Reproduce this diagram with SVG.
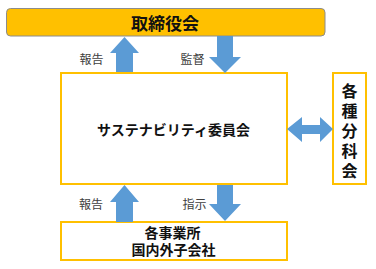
<svg xmlns="http://www.w3.org/2000/svg" width="376" height="269" viewBox="0 0 376 269">
<style>
.box{fill:#fff;stroke:#FFC000;stroke-width:2}
.arr{fill:#5B9BD5}
.t{font-family:"Noto Sans CJK JP","Noto Sans CJK SC",sans-serif;font-weight:bold;fill:#111;text-anchor:middle;dominant-baseline:central}
.t2{font-family:"Liberation Sans","Noto Sans CJK JP",sans-serif;font-weight:bold;fill:#111;text-anchor:middle;dominant-baseline:central}
.v{font-family:"Noto Sans CJK JP","Noto Sans CJK SC",sans-serif;font-weight:bold;fill:#111;writing-mode:vertical-rl;letter-spacing:4px}
.l{font-family:"Noto Sans CJK JP","Noto Sans CJK SC",sans-serif;font-size:12px;fill:#404040;text-anchor:middle;dominant-baseline:central}
</style>
<rect width="376" height="269" fill="#fff"/>
<g id="board">
<rect x="6.5" y="8.5" width="318.5" height="27.5" rx="4" fill="#FFC000" stroke="#8c8c8c" stroke-width="1"/>
<text class="t" x="165" y="22" font-size="17">取締役会</text>
</g>
<g id="committee">
<rect class="box" x="61" y="73" width="226" height="111"/>
<text class="t" x="173.5" y="129" font-size="14">サステナビリティ委員会</text>
</g>
<g id="subcommittees">
<rect class="box" x="333" y="73" width="33" height="111"/>
<text class="v" x="349.5" y="83" font-size="16">各種分科会</text>
</g>
<g id="offices">
<rect class="box" x="61" y="222" width="226" height="38"/>
<text class="t2" font-size="14"><tspan x="172.5" y="233">各事業所</tspan><tspan x="173.5" y="250">国内外子会社</tspan></text>
</g>
<g id="connectors">
<polygon class="arr" points="124.5,37 139,53 133,53 133,72 116,72 116,53 110,53"/>
<polygon class="arr" points="217,36 233,36 233,57 241,57 225,73 209,57 217,57"/>
<polygon class="arr" points="287,129 302,117 302,125 320,125 320,117 333,129 320,142 320,134 302,134 302,142"/>
<polygon class="arr" points="124.5,185 139,202 133,202 133,222 116,222 116,202 110,202"/>
<polygon class="arr" points="217,185 233,185 233,204 241,204 225,221 209,204 217,204"/>
<text class="l" x="91.5" y="58">報告</text>
<text class="l" x="192.5" y="58">監督</text>
<text class="l" x="91" y="203">報告</text>
<text class="l" x="194.5" y="203">指示</text>
</g>
</svg>
